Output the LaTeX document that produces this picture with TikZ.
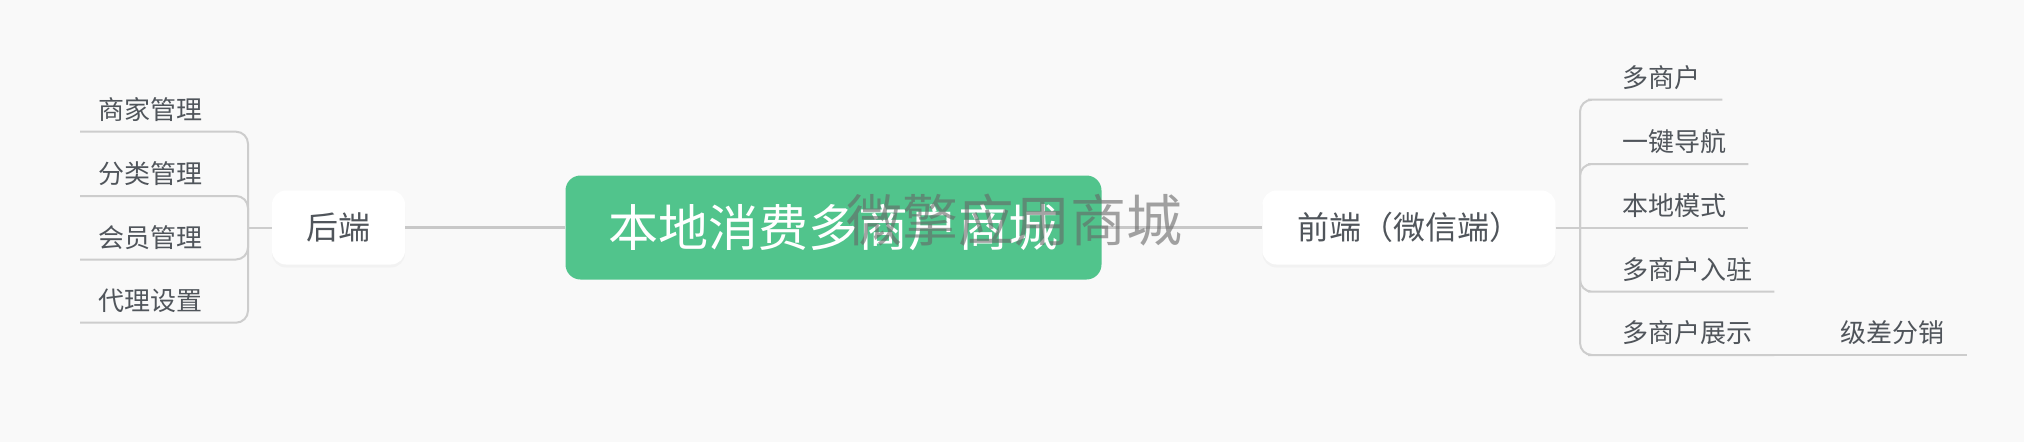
\documentclass[tikz,border=0pt]{standalone}
\usepackage{fontspec}
\setmainfont{Noto Sans CJK SC}
\usetikzlibrary{shadows}
\definecolor{bg}{HTML}{F9F9F9}
\definecolor{rootgreen}{HTML}{51C48C}
\definecolor{txt}{HTML}{50555B}
\definecolor{mainline}{HTML}{C8C8C8}
\definecolor{thinline}{HTML}{CDCDCD}
\definecolor{wmgray}{HTML}{666666}
\begin{document}
\begin{tikzpicture}[x=1pt,y=-1pt,
  rootbox/.style={fill=rootgreen, rounded corners=15pt, minimum width=536pt, minimum height=104pt,
    text=white, font=\fontsize{50}{60}\selectfont, inner sep=0pt},
  branchbox/.style={fill=white, rounded corners=14pt, minimum height=74pt, text=txt,
    font=\fontsize{32}{38}\selectfont, inner sep=0pt,
    drop shadow={opacity=0.05, shadow xshift=0pt, shadow yshift=-3pt}},
  leafL/.style={anchor=south west, text width=132pt, align=left, inner xsep=18pt, inner ysep=6pt,
    text height=20pt, text depth=6pt, font=\fontsize{26}{30}\selectfont, text=txt},
  leafR/.style={anchor=south west, inner xsep=22pt, inner ysep=6pt,
    text height=20pt, text depth=6pt, font=\fontsize{26}{30}\selectfont, text=txt},
  mainconn/.style={draw=mainline, line width=3pt},
  thinconn/.style={draw=thinline, line width=2pt, rounded corners=12pt},
  watermark/.style={text=wmgray, opacity=0.6, font=\fontsize{56}{60}\selectfont, inner sep=0pt}
]
\useasboundingbox[fill=bg] (0,0) rectangle (2024,442);

% main nodes
\node[rootbox] (root) at (833.5,227.5) {本地消费多商户商城};
\node[branchbox, minimum width=133pt] (back) at (338.5,227.5) {后端};
\node[branchbox, minimum width=293pt] (front) at (1409,227.5) {前端（微信端）};

% junctions
\coordinate (Lj) at (248,227.5);
\coordinate (Rj) at (1580,227.5);

% left leaves
\node[leafL] (l1) at (80,131.7) {商家管理};
\node[leafL] (l2) at (80,196) {分类管理};
\node[leafL] (l3) at (80,259.5) {会员管理};
\node[leafL] (l4) at (80,322.7) {代理设置};

% right leaves
\node[leafR] (r1) at (1600,99.7) {多商户};
\node[leafR] (r2) at (1600,164) {一键导航};
\node[leafR] (r3) at (1600,227.5) {本地模式};
\node[leafR] (r4) at (1600,291.7) {多商户入驻};
\node[leafR] (r5) at (1600,355) {多商户展示};
\node[leafR] (r6) at (1818.7,355) {级差分销};

% connectors
\draw[mainconn] (root.west) -- (back.east);
\draw[mainconn] (root.east) -- (front.west);
\draw[thinconn] (back.west) -- (Lj);
\draw[thinconn] (Lj) |- (l1.south west);
\draw[thinconn] (Lj) |- (l2.south west);
\draw[thinconn] (Lj) |- (l3.south west);
\draw[thinconn] (Lj) |- (l4.south west);
\draw[thinconn] (front.east) -- (Rj);
\draw[thinconn] (Rj) |- (r1.south west) -- (r1.south east);
\draw[thinconn] (Rj) |- (r2.south west) -- (r2.south east);
\draw[thinconn] (Rj) -- (r3.south east);
\draw[thinconn] (Rj) |- (r4.south west) -- (r4.south east);
\draw[thinconn] (Rj) |- (r5.south west) -- (r5.south east);
\draw[thinconn] (r5.south east) -- (r6.south east);

% watermark
\node[watermark] (wm) at (1014,220) {微擎应用商城};
\end{tikzpicture}
\end{document}
